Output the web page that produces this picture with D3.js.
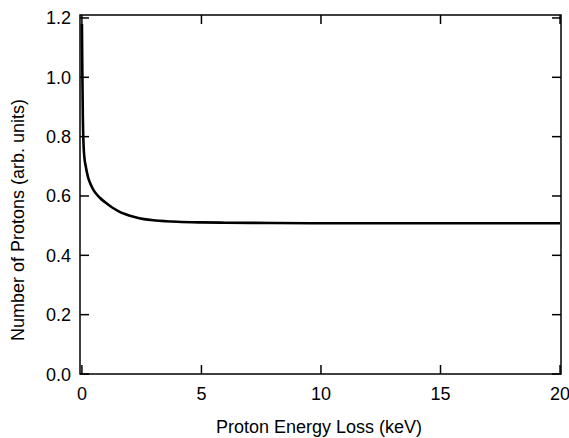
<!DOCTYPE html>
<html lang="en">
  <head>
    <meta charset="UTF-8" />
    <title>Proton Energy Loss</title>
    <script src="https://cdn.jsdelivr.net/npm/d3@7"></script>
    <style>
      body { margin: 0; background: #fff; }
      svg { display: block; font-family: "Liberation Sans", Arial, sans-serif; }
    </style>
  </head>
  <body>
    <svg width="569" height="438"></svg>
    <script>
      // data
      const energyLoss = [0, 0.02, 0.04, 0.07, 0.11, 0.16, 0.25, 0.35, 0.5, 0.75, 1, 1.25, 1.5, 1.8, 2.2, 2.6, 3, 3.5, 4, 5, 6, 8, 10, 15, 20];
      const protons = [1.18, 1.0, 0.86, 0.77, 0.725, 0.7, 0.665, 0.642, 0.618, 0.594, 0.577, 0.562, 0.55, 0.539, 0.529, 0.522, 0.518, 0.515, 0.513, 0.511, 0.51, 0.509, 0.508, 0.508, 0.508];
      const xTicks = [0, 5, 10, 15, 20];
      const yTicks = [0, 0.2, 0.4, 0.6, 0.8, 1.0, 1.2];

      // plot frame (window.top is reserved, so use other names)
      const pL = 80, pR = 561, pT = 15, pB = 374;
      const svg = d3.select("svg");

      const x = d3.scaleLinear().domain([-0.08, 20.04]).range([pL, pR]);
      const y = d3.scaleLinear().domain([0, 1.21]).range([pB, pT]);

      const tk = 9; // inward ticks on all four sides
      const axes = svg.append("g").attr("stroke", "#000").attr("stroke-width", 1.5);

      axes.append("rect")
        .attr("x", pL).attr("y", pT)
        .attr("width", pR - pL).attr("height", pB - pT)
        .attr("fill", "none");

      // bottom + top ticks
      xTicks.forEach(t => {
        axes.append("line").attr("x1", x(t)).attr("x2", x(t)).attr("y1", pB).attr("y2", pB - tk);
        axes.append("line").attr("x1", x(t)).attr("x2", x(t)).attr("y1", pT).attr("y2", pT + tk);
      });
      // left + right ticks
      yTicks.forEach(t => {
        axes.append("line").attr("y1", y(t)).attr("y2", y(t)).attr("x1", pL).attr("x2", pL + tk);
        axes.append("line").attr("y1", y(t)).attr("y2", y(t)).attr("x1", pR).attr("x2", pR - tk);
      });

      svg.append("g").selectAll("text").data(xTicks).enter().append("text")
        .attr("x", d => x(d)).attr("y", 400)
        .attr("text-anchor", "middle").attr("font-size", 18)
        .text(d => d);

      svg.append("g").selectAll("text").data(yTicks).enter().append("text")
        .attr("x", 71).attr("y", d => y(d) + 6.5)
        .attr("text-anchor", "end").attr("font-size", 18)
        .text(d => d3.format(".1f")(d));

      svg.append("text")
        .attr("x", 319).attr("y", 433)
        .attr("text-anchor", "middle").attr("font-size", 18)
        .text("Proton Energy Loss (keV)");

      svg.append("text")
        .attr("transform", "translate(24,220) rotate(-90)")
        .attr("text-anchor", "middle").attr("font-size", 18)
        .text("Number of Protons (arb. units)");

      // the curve
      const line = d3.line()
        .x((d, i) => x(energyLoss[i]))
        .y(d => y(d))
        .curve(d3.curveMonotoneX);

      svg.append("path")
        .datum(protons)
        .attr("d", line)
        .attr("fill", "none")
        .attr("stroke", "#000")
        .attr("stroke-width", 2.6);
    </script>
  </body>
</html>
